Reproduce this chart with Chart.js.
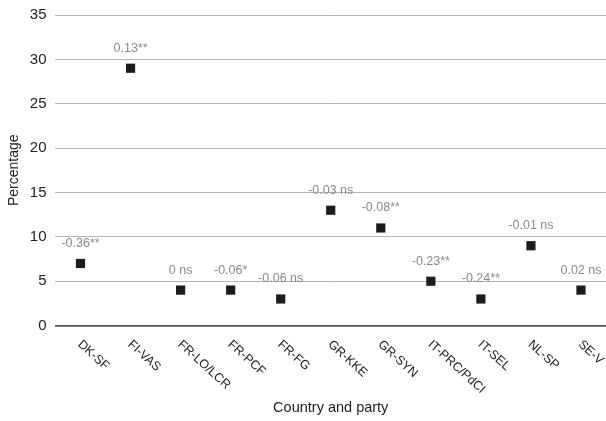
<!DOCTYPE html>
<html>
<head>
<meta charset="utf-8">
<script src="https://cdn.jsdelivr.net/npm/chart.js@4"></script>
<style>
  html, body { margin: 0; padding: 0; background: #fff; }
  #wrap { width: 606px; height: 421px; }
</style>
</head>
<body>
<div id="wrap"><canvas id="chart"></canvas></div>
<script>
const parties = ['DK-SF', 'FI-VAS', 'FR-LO/LCR', 'FR-PCF', 'FR-FG', 'GR-KKE', 'GR-SYN', 'IT-PRC/PdCI', 'IT-SEL', 'NL-SP', 'SE-V'];
const percentages = [7, 29, 4, 4, 3, 13, 11, 5, 3, 9, 4];
const pointLabels = ['-0.36**', '0.13**', '0 ns', '-0.06*', '-0.06 ns', '-0.03 ns', '-0.08**', '-0.23**', '-0.24**', '-0.01 ns', '0.02 ns'];

const FONT = "'Liberation Sans', Arial, Helvetica, sans-serif";

// value labels above points + rotated category labels (clockwise, anchored at tick)
const annotate = {
  id: 'annotate',
  afterDatasetsDraw(chart) {
    const ctx = chart.ctx;
    const meta = chart.getDatasetMeta(0);
    ctx.save();
    ctx.font = '12.5px ' + FONT;
    ctx.fillStyle = '#8a8a8a';
    ctx.textAlign = 'center';
    ctx.textBaseline = 'middle';
    meta.data.forEach((pt, i) => {
      ctx.fillText(pointLabels[i], pt.x, pt.y - 20);
    });
    ctx.restore();

    const xs = chart.scales.x;
    const base = chart.chartArea.bottom;
    ctx.save();
    ctx.font = '12.5px ' + FONT;
    ctx.fillStyle = '#222';
    ctx.textAlign = 'left';
    ctx.textBaseline = 'middle';
    parties.forEach((p, i) => {
      const x = xs.getPixelForValue(i);
      ctx.save();
      ctx.translate(x - 1, base + 17);
      ctx.rotate(Math.PI * 0.235);
      ctx.fillText(p, 0, 0);
      ctx.restore();
    });
    ctx.restore();
  }
};

new Chart(document.getElementById('chart'), {
  type: 'line',
  plugins: [annotate],
  data: {
    labels: parties,
    datasets: [{
      data: percentages,
      showLine: false,
      pointStyle: 'rect',
      pointRadius: 6.5,
      pointHoverRadius: 6.5,
      backgroundColor: '#1e1b1c',
      borderColor: '#1e1b1c',
      borderWidth: 0
    }]
  },
  options: {
    responsive: true,
    maintainAspectRatio: false,
    animation: false,
    clip: false,
    layout: { autoPadding: false, padding: { top: 15, right: 0, bottom: 4, left: 0 } },
    plugins: {
      legend: { display: false },
      tooltip: { enabled: false }
    },
    scales: {
      x: {
        offset: true,
        grid: { display: false },
        border: { color: '#555', width: 1.5 },
        ticks: { display: false },
        title: {
          display: true,
          text: 'Country and party',
          color: '#222',
          font: { family: FONT, size: 14.5 },
          padding: { top: 66, bottom: 0 }
        }
      },
      y: {
        min: 0,
        max: 35,
        afterFit: (scale) => { scale.paddingTop = 0; scale.paddingBottom = 0; },
        ticks: {
          stepSize: 5,
          color: '#222',
          padding: 9,
          font: { family: FONT, size: 15 }
        },
        grid: {
          color: (c) => c.tick && c.tick.value === 0 ? '#555' : '#b5b5b5',
          lineWidth: (c) => c.tick && c.tick.value === 0 ? 1.5 : 1,
          drawTicks: false
        },
        border: { display: false },
        title: {
          display: true,
          text: 'Percentage',
          color: '#222',
          font: { family: FONT, size: 14 },
          padding: { top: 6, bottom: -2 }
        }
      }
    }
  }
});
</script>
</body>
</html>
